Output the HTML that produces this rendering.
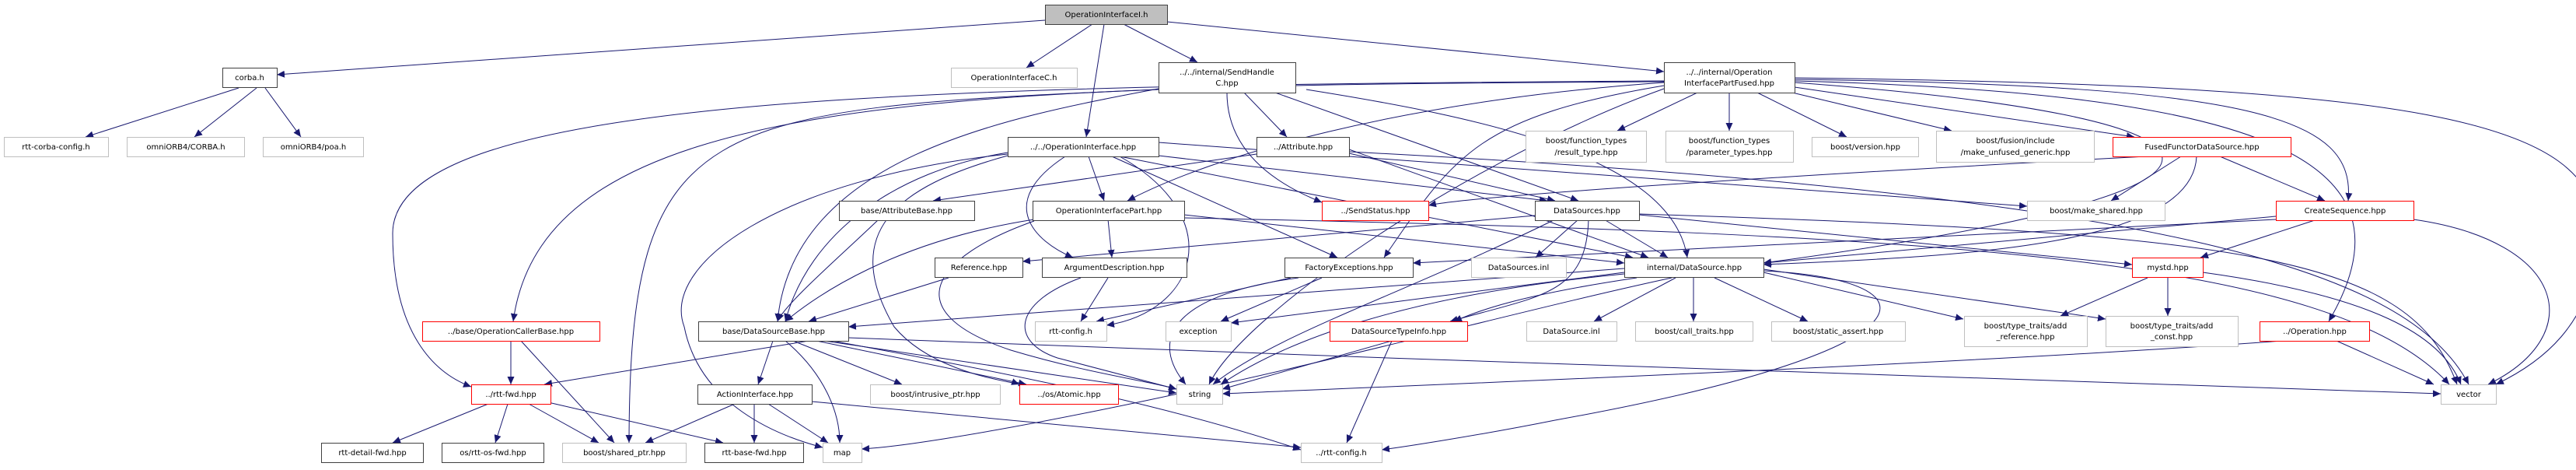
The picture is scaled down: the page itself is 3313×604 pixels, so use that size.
<!DOCTYPE html>
<html><head><meta charset="utf-8"><style>
html,body{margin:0;padding:0;background:#fff;}
svg{display:block;}
text{font-family:"DejaVu Sans","Liberation Sans",sans-serif;font-size:10px;fill:#000;text-anchor:middle;}
.e{fill:none;stroke:#191970;stroke-width:1;marker-end:url(#a);}
.k{fill:#fff;stroke:#404040;stroke-width:1;}
.g{fill:#fff;stroke:#bfbfbf;stroke-width:1;}
.r{fill:#fff;stroke:#ff0000;stroke-width:1;}
</style></head><body>
<svg width="3313" height="604" viewBox="0 0 3313 604" xmlns="http://www.w3.org/2000/svg">
<defs><marker id="a" markerUnits="userSpaceOnUse" markerWidth="11" markerHeight="9" refX="10" refY="4.5" orient="auto"><path d="M0,0 L10,4.5 L0,9 z" fill="#191970"/></marker></defs>
<g>
<path class="e" d="M1344 26 L356 96"/>
<path class="e" d="M1405 31 L1320 87"/>
<path class="e" d="M1420 31 L1397 176"/>
<path class="e" d="M1445 31 L1540 80"/>
<path class="e" d="M1501 28 L2140 92"/>
<path class="e" d="M307 113 L110 176"/>
<path class="e" d="M330 113 L250 176"/>
<path class="e" d="M341 113 L387 176"/>
<path class="e" d="M1600 119 L1655 176"/>
<path class="e" d="M1578 119 C1578 200 1650 240 1700 260"/>
<path class="e" d="M1490 114 C1300 150 1020 200 1000 413"/>
<path class="e" d="M1490 115 C900 140 810 150 809 569"/>
<path class="e" d="M1640 119 L2030 258"/>
<path class="e" d="M1680 115 C1900 150 2150 200 2170 331"/>
<path class="e" d="M2183 119 L2080 168"/>
<path class="e" d="M2224 119 L2224 168"/>
<path class="e" d="M2260 119 L2375 176"/>
<path class="e" d="M2305 119 L2510 168"/>
<path class="e" d="M2308 112 L2745 176"/>
<path class="e" d="M2308 102 C2900 110 3030 150 3020 258"/>
<path class="e" d="M2308 104 C2900 120 3120 200 2995 413"/>
<path class="e" d="M2308 100 C3100 110 3340 150 3340 300 C3340 420 3260 470 3210 494"/>
<path class="e" d="M2308 106 C2900 150 2990 240 2268 338"/>
<path class="e" d="M2140 110 C1900 150 1870 200 1780 331"/>
<path class="e" d="M2140 106 C1800 130 1560 200 1450 258"/>
<path class="e" d="M2140 105 C1200 110 700 120 660 413"/>
<path class="e" d="M2140 104 C1200 110 505 120 505 300 C505 430 560 480 606 497"/>
<path class="e" d="M1490 183 C2000 220 2400 250 2607 265"/>
<path class="e" d="M2140 114 C1900 200 1600 400 1555 494"/>
<path class="e" d="M2855 201 L2990 258"/>
<path class="e" d="M2805 201 L2715 258"/>
<path class="e" d="M2825 201 C2820 320 2500 330 2268 340"/>
<path class="e" d="M2760 201 C2400 220 1900 250 1837 264"/>
<path class="e" d="M2980 282 L2830 331"/>
<path class="e" d="M3104 282 C3300 310 3330 430 3200 494"/>
<path class="e" d="M2927 278 L2268 338"/>
<path class="e" d="M2927 282 L1817 338"/>
<path class="e" d="M2762 357 L2650 406"/>
<path class="e" d="M2788 357 L2788 406"/>
<path class="e" d="M2833 350 C3050 380 3140 430 3165 494"/>
<path class="e" d="M3005 438 L3130 494"/>
<path class="e" d="M2935 438 C2500 470 1700 500 1572 506"/>
<path class="e" d="M2030 282 L1975 331"/>
<path class="e" d="M2063 282 L2145 331"/>
<path class="e" d="M2043 282 C2040 380 1980 380 1865 413"/>
<path class="e" d="M1974 277 L1315 336"/>
<path class="e" d="M2108 276 L2742 340"/>
<path class="e" d="M2108 275 C2900 300 3100 330 3160 494"/>
<path class="e" d="M2000 282 C1800 380 1640 430 1560 494"/>
<path class="e" d="M1616 198 L1200 258"/>
<path class="e" d="M1735 197 L2000 258"/>
<path class="e" d="M1735 192 L2120 331"/>
<path class="e" d="M1735 195 C2800 250 3100 350 3175 494"/>
<path class="e" d="M1130 282 C1080 330 1010 390 1000 413"/>
<path class="e" d="M1400 201 L1420 258"/>
<path class="e" d="M1370 201 C1280 260 1330 310 1380 331"/>
<path class="e" d="M1430 201 L1720 331"/>
<path class="e" d="M1440 201 L2100 331"/>
<path class="e" d="M1490 200 L1990 258"/>
<path class="e" d="M1296 196 C1150 220 1040 300 1010 413"/>
<path class="e" d="M1440 201 C1580 280 1540 400 1423 418"/>
<path class="e" d="M1296 198 C1000 230 850 340 880 420 C900 520 1000 560 1058 575"/>
<path class="e" d="M1296 200 C1150 240 1080 300 1150 420 C1200 480 1300 490 1311 494"/>
<path class="e" d="M1425 282 L1430 331"/>
<path class="e" d="M1330 282 C1150 310 1050 380 1010 413"/>
<path class="e" d="M1330 284 C1200 330 1150 400 1300 450 C1400 480 1480 490 1513 500"/>
<path class="e" d="M1523 276 L2089 338"/>
<path class="e" d="M1523 280 C2500 300 3000 330 3150 494"/>
<path class="e" d="M1220 357 L1040 413"/>
<path class="e" d="M1425 357 L1390 413"/>
<path class="e" d="M1390 357 C1300 390 1300 440 1360 460 L1513 500"/>
<path class="e" d="M1700 357 L1570 413"/>
<path class="e" d="M1670 357 C1500 380 1480 440 1525 494"/>
<path class="e" d="M1660 357 L1410 413"/>
<path class="e" d="M2089 345 L1091 420"/>
<path class="e" d="M2155 357 L2050 413"/>
<path class="e" d="M2178 357 L2178 413"/>
<path class="e" d="M2205 357 L2325 413"/>
<path class="e" d="M2268 350 L2525 410"/>
<path class="e" d="M2268 346 L2708 410"/>
<path class="e" d="M2105 357 C1950 380 1900 400 1870 413"/>
<path class="e" d="M2089 352 C1800 380 1650 440 1570 494"/>
<path class="e" d="M2089 350 L1583 415"/>
<path class="e" d="M2150 357 C1950 400 1700 470 1400 530 C1250 560 1150 575 1108 577"/>
<path class="e" d="M2268 348 C2500 360 2500 450 2000 540 C1900 560 1800 575 1777 578"/>
<path class="e" d="M1790 438 L1572 500"/>
<path class="e" d="M1790 438 L1732 569"/>
<path class="e" d="M1040 438 L700 494"/>
<path class="e" d="M994 438 L975 494"/>
<path class="e" d="M1010 438 C1060 480 1080 530 1080 569"/>
<path class="e" d="M1020 438 L1160 494"/>
<path class="e" d="M1050 438 L1320 494"/>
<path class="e" d="M1060 438 L1513 505"/>
<path class="e" d="M1070 438 C1300 480 1500 520 1673 578"/>
<path class="e" d="M1091 434 C1800 460 2800 500 3139 506"/>
<path class="e" d="M657 438 L657 494"/>
<path class="e" d="M670 438 L790 569"/>
<path class="e" d="M628 519 L505 569"/>
<path class="e" d="M653 519 L637 569"/>
<path class="e" d="M680 519 L770 569"/>
<path class="e" d="M705 517 L930 569"/>
<path class="e" d="M945 519 L830 569"/>
<path class="e" d="M970 519 L970 569"/>
<path class="e" d="M988 519 L1065 569"/>
<path class="e" d="M1044 516 L1673 575"/>
</g>
<g>
<rect x="1344.5" y="6.5" width="157" height="25" fill="#bfbfbf" stroke="#404040"/><text x="1423" y="22">OperationInterfaceI.h</text>
<rect class="k" x="286.5" y="87.5" width="70" height="25"/><text x="321" y="103">corba.h</text>
<rect class="g" x="1223.5" y="87.5" width="162" height="25"/><text x="1304" y="103">OperationInterfaceC.h</text>
<rect class="k" x="1490.5" y="80.5" width="176" height="39"/><text x="1578" y="96">../../internal/SendHandle</text><text x="1578" y="110">C.hpp</text>
<rect class="k" x="2140.5" y="80.5" width="168" height="39"/><text x="2224" y="96">../../internal/Operation</text><text x="2224" y="110">InterfacePartFused.hpp</text>
<rect class="g" x="5.5" y="176.5" width="134" height="25"/><text x="72" y="192">rtt-corba-config.h</text>
<rect class="g" x="163.5" y="176.5" width="151" height="25"/><text x="239" y="192">omniORB4/CORBA.h</text>
<rect class="g" x="338.5" y="176.5" width="129" height="25"/><text x="403" y="192">omniORB4/poa.h</text>
<rect class="k" x="1296.5" y="176.5" width="194" height="25"/><text x="1393" y="192">../../OperationInterface.hpp</text>
<rect class="k" x="1616.5" y="176.5" width="119" height="25"/><text x="1676" y="192">../Attribute.hpp</text>
<rect class="g" x="1962.5" y="168.5" width="155" height="40"/><text x="2040" y="184">boost/function_types</text><text x="2040" y="199">/result_type.hpp</text>
<rect class="g" x="2142.5" y="168.5" width="164" height="40"/><text x="2224" y="184">boost/function_types</text><text x="2224" y="199">/parameter_types.hpp</text>
<rect class="g" x="2330.5" y="176.5" width="137" height="25"/><text x="2399" y="192">boost/version.hpp</text>
<rect class="g" x="2490.5" y="168.5" width="203" height="40"/><text x="2592" y="184">boost/fusion/include</text><text x="2592" y="199">/make_unfused_generic.hpp</text>
<rect class="r" x="2717.5" y="176.5" width="229" height="25"/><text x="2832" y="192">FusedFunctorDataSource.hpp</text>
<rect class="k" x="1079.5" y="258.5" width="174" height="25"/><text x="1166" y="274">base/AttributeBase.hpp</text>
<rect class="k" x="1328.5" y="258.5" width="195" height="25"/><text x="1426" y="274">OperationInterfacePart.hpp</text>
<rect class="r" x="1700.5" y="258.5" width="137" height="25"/><text x="1769" y="274">../SendStatus.hpp</text>
<rect class="k" x="1974.5" y="258.5" width="134" height="25"/><text x="2041" y="274">DataSources.hpp</text>
<rect class="g" x="2607.5" y="258.5" width="177" height="25"/><text x="2696" y="274">boost/make_shared.hpp</text>
<rect class="r" x="2927.5" y="258.5" width="177" height="25"/><text x="3016" y="274">CreateSequence.hpp</text>
<rect class="k" x="1202.5" y="331.5" width="113" height="25"/><text x="1259" y="347">Reference.hpp</text>
<rect class="k" x="1340.5" y="331.5" width="186" height="25"/><text x="1433" y="347">ArgumentDescription.hpp</text>
<rect class="k" x="1652.5" y="331.5" width="165" height="25"/><text x="1735" y="347">FactoryExceptions.hpp</text>
<rect class="g" x="1892.5" y="331.5" width="122" height="25"/><text x="1953" y="347">DataSources.inl</text>
<rect class="k" x="2089.5" y="331.5" width="179" height="25"/><text x="2179" y="347">internal/DataSource.hpp</text>
<rect class="r" x="2742.5" y="331.5" width="91" height="25"/><text x="2788" y="347">mystd.hpp</text>
<rect class="r" x="543.5" y="413.5" width="228" height="25"/><text x="657" y="429">../base/OperationCallerBase.hpp</text>
<rect class="k" x="898.5" y="413.5" width="193" height="25"/><text x="995" y="429">base/DataSourceBase.hpp</text>
<rect class="g" x="1331.5" y="413.5" width="92" height="25"/><text x="1377" y="429">rtt-config.h</text>
<rect class="g" x="1499.5" y="413.5" width="84" height="25"/><text x="1541" y="429">exception</text>
<rect class="r" x="1710.5" y="413.5" width="177" height="25"/><text x="1799" y="429">DataSourceTypeInfo.hpp</text>
<rect class="g" x="1963.5" y="413.5" width="116" height="25"/><text x="2021" y="429">DataSource.inl</text>
<rect class="g" x="2103.5" y="413.5" width="151" height="25"/><text x="2179" y="429">boost/call_traits.hpp</text>
<rect class="g" x="2278.5" y="413.5" width="172" height="25"/><text x="2364" y="429">boost/static_assert.hpp</text>
<rect class="g" x="2526.5" y="406.5" width="158" height="39"/><text x="2605" y="422">boost/type_traits/add</text><text x="2605" y="436">_reference.hpp</text>
<rect class="g" x="2708.5" y="406.5" width="170" height="39"/><text x="2793" y="422">boost/type_traits/add</text><text x="2793" y="436">_const.hpp</text>
<rect class="r" x="2906.5" y="413.5" width="141" height="25"/><text x="2977" y="429">../Operation.hpp</text>
<rect class="r" x="606.5" y="494.5" width="102" height="25"/><text x="657" y="510">../rtt-fwd.hpp</text>
<rect class="k" x="897.5" y="494.5" width="147" height="25"/><text x="971" y="510">ActionInterface.hpp</text>
<rect class="g" x="1119.5" y="494.5" width="167" height="25"/><text x="1203" y="510">boost/intrusive_ptr.hpp</text>
<rect class="r" x="1311.5" y="494.5" width="127" height="25"/><text x="1375" y="510">../os/Atomic.hpp</text>
<rect class="g" x="1513.5" y="494.5" width="59" height="25"/><text x="1543" y="510">string</text>
<rect class="g" x="3139.5" y="494.5" width="71" height="25"/><text x="3175" y="510">vector</text>
<rect class="k" x="413.5" y="569.5" width="131" height="25"/><text x="479" y="585">rtt-detail-fwd.hpp</text>
<rect class="k" x="568.5" y="569.5" width="131" height="25"/><text x="634" y="585">os/rtt-os-fwd.hpp</text>
<rect class="g" x="723.5" y="569.5" width="159" height="25"/><text x="803" y="585">boost/shared_ptr.hpp</text>
<rect class="k" x="906.5" y="569.5" width="127" height="25"/><text x="970" y="585">rtt-base-fwd.hpp</text>
<rect class="g" x="1058.5" y="569.5" width="50" height="25"/><text x="1083" y="585">map</text>
<rect class="g" x="1673.5" y="569.5" width="104" height="25"/><text x="1725" y="585">../rtt-config.h</text>
</g>
</svg>
</body></html>
